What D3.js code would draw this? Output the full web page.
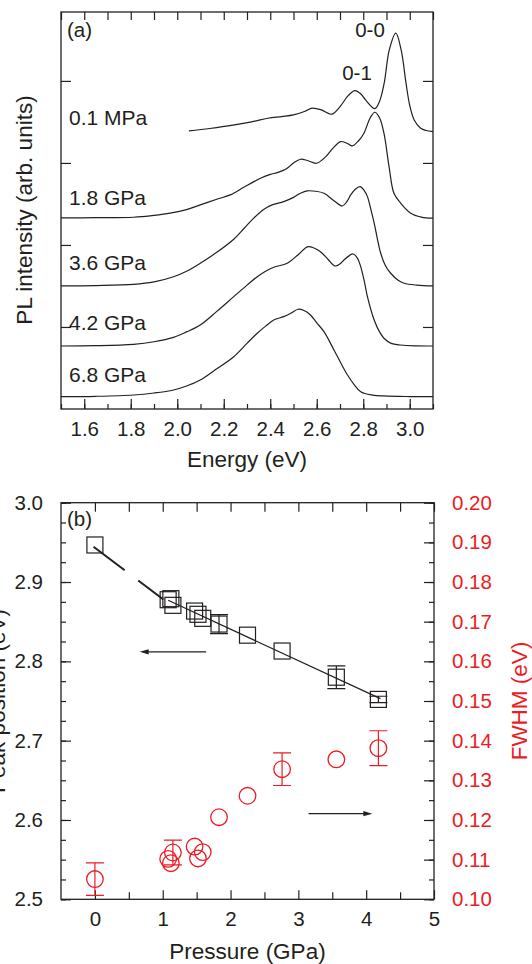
<!DOCTYPE html>
<html>
<head>
<meta charset="utf-8">
<script src="https://cdn.jsdelivr.net/npm/d3@7"></script>
<style>
  body { margin: 0; background: #fff; }
  svg { display: block; }
  text { font-family: "Liberation Sans", Arial, Helvetica, sans-serif; }
</style>
</head>
<body>
<svg id="chart" width="532" height="964"></svg>
<script>
// ---------- panel (a): PL spectra, [energy (eV), intensity (arb. units, offset included)]
const spec01MPa = [[2.05,3.39],[2.14,3.42],[2.24,3.46],[2.32,3.50],[2.39,3.545],[2.45,3.565],[2.50,3.585],
  [2.55,3.63],[2.58,3.667],[2.62,3.646],[2.664,3.594],[2.70,3.687],[2.735,3.82],[2.764,3.882],[2.79,3.84],
  [2.81,3.768],[2.85,3.662],[2.87,3.75],[2.89,3.972],[2.912,4.378],[2.940,4.582],[2.963,4.378],[2.984,3.972],
  [3.00,3.70],[3.019,3.524],[3.047,3.423],[3.07,3.395],[3.10,3.382]];
const spec18GPa = [[1.50,2.33],[1.65,2.332],[1.812,2.338],[1.90,2.36],[1.97,2.387],[2.04,2.43],[2.099,2.488],
  [2.17,2.557],[2.228,2.61],[2.29,2.71],[2.358,2.813],[2.40,2.86],[2.43,2.882],[2.47,2.93],[2.50,3.0],
  [2.53,3.045],[2.56,3.03],[2.599,2.996],[2.64,3.08],[2.67,3.18],[2.703,3.26],[2.73,3.24],[2.753,3.207],
  [2.78,3.27],[2.803,3.362],[2.83,3.55],[2.85,3.618],[2.87,3.55],[2.889,3.362],[2.911,2.955],[2.932,2.63],
  [2.961,2.51],[3.004,2.387],[3.05,2.34],[3.10,2.326]];
const spec36GPa = [[1.50,1.50],[1.65,1.505],[1.812,1.52],[1.90,1.55],[1.984,1.613],[2.04,1.68],[2.099,1.777],
  [2.17,1.91],[2.243,2.07],[2.29,2.21],[2.33,2.33],[2.37,2.43],[2.408,2.488],[2.458,2.528],[2.50,2.58],
  [2.53,2.63],[2.559,2.659],[2.595,2.655],[2.631,2.63],[2.674,2.54],[2.71,2.476],[2.73,2.53],[2.746,2.61],
  [2.766,2.68],[2.786,2.711],[2.805,2.66],[2.818,2.589],[2.833,2.43],[2.847,2.265],[2.875,1.899],[2.895,1.75],
  [2.918,1.655],[2.95,1.57],[2.976,1.533],[3.03,1.51],[3.10,1.50]];
const spec42GPa = [[1.50,0.768],[1.65,0.772],[1.812,0.789],[1.90,0.82],[1.984,0.874],[2.04,0.94],[2.099,1.024],
  [2.17,1.19],[2.243,1.37],[2.30,1.51],[2.344,1.613],[2.38,1.68],[2.415,1.728],[2.473,1.777],[2.52,1.88],
  [2.562,1.979],[2.59,1.96],[2.616,1.918],[2.65,1.82],[2.678,1.744],[2.70,1.77],[2.717,1.817],[2.74,1.87],
  [2.756,1.89],[2.775,1.84],[2.789,1.735],[2.805,1.55],[2.818,1.37],[2.847,1.085],[2.87,0.94],[2.889,0.862],
  [2.92,0.80],[2.961,0.78],[3.03,0.77],[3.10,0.768]];
const spec68GPa = [[1.50,0.15],[1.65,0.155],[1.812,0.171],[1.90,0.195],[1.984,0.232],[2.04,0.28],[2.099,0.354],
  [2.17,0.49],[2.243,0.638],[2.30,0.80],[2.344,0.923],[2.38,1.01],[2.415,1.085],[2.458,1.126],[2.49,1.17],
  [2.52,1.216],[2.545,1.20],[2.573,1.146],[2.60,1.05],[2.631,0.943],[2.674,0.72],[2.70,0.58],[2.731,0.42],
  [2.76,0.30],[2.789,0.211],[2.84,0.17],[2.889,0.159],[3.00,0.152],[3.10,0.15]];
const spectrumLabels = ['0.1 MPa', '1.8 GPa', '3.6 GPa', '4.2 GPa', '6.8 GPa'];
const energyTicks = [1.6, 1.8, 2.0, 2.2, 2.4, 2.6, 2.8, 3.0];
const energyMinor = [1.5, 1.6, 1.7, 1.8, 1.9, 2.0, 2.1, 2.2, 2.3, 2.4, 2.5, 2.6, 2.7, 2.8, 2.9, 3.0, 3.1];
const intensityTicks = [1, 2, 3, 4];

// ---------- panel (b): peak position and FWHM vs pressure
const pressure = [0.00, 1.08, 1.12, 1.15, 1.47, 1.52, 1.59, 1.83, 2.25, 2.76, 3.56, 4.18];
const peakPos  = [2.9467, 2.8777, 2.879, 2.8706, 2.8634, 2.8593, 2.8542, 2.847, 2.833, 2.813, 2.780, 2.752];
const peakErr  = [0, 0, 0, 0, 0, 0, 0, 0.012, 0, 0, 0.0143, 0.004];
const fwhm     = [0.1051, 0.1102, 0.1091, 0.1118, 0.1133, 0.1103, 0.1119, 0.1207, 0.1261, 0.1328, 0.1353, 0.1381];
const fwhmErr  = [0.0041, 0, 0, 0.0031, 0, 0, 0, 0, 0, 0.0041, 0, 0.0044];
const fitSolid  = [[1.08, 2.877], [4.21, 2.753]];
const fitDashed = [[-0.02, 2.9445], [1.01, 2.878]];
const arrowPeak = [[1.64, 2.812], [0.66, 2.812]];
const arrowFwhm = [[3.15, 0.1216], [4.09, 0.1216]];
const pressureTicks = [0, 1, 2, 3, 4, 5];
const pressureMinor = [0.5, 1.5, 2.5, 3.5, 4.5];
const peakTicks = [2.5, 2.6, 2.7, 2.8, 2.9, 3.0];
const fwhmTicks = [0.10, 0.11, 0.12, 0.13, 0.14, 0.15, 0.16, 0.17, 0.18, 0.19, 0.20];

const ink = '#231f20';
const red = '#ec1c24';
const tickFont = '20.5px';
const titleFont = '22.5px';

const svg = d3.select('#chart');

function styleAxis(g, color) {
  g.select('.domain').remove();
  g.selectAll('.tick line').attr('stroke', ink).attr('stroke-width', 1.2);
  g.selectAll('.tick text').style('font-size', tickFont)
    .style('font-family', '"Liberation Sans", Arial, sans-serif')
    .style('fill', color);
}

// ================= panel (a)
const xA = d3.scaleLinear().domain([1.5, 3.1]).range([61, 433]);
const yA = d3.scaleLinear().domain([0, 4.84]).range([409, 12]);
const gA = svg.append('g');

gA.append('g').attr('transform', 'translate(0,409)')
  .call(d3.axisBottom(xA).tickValues(energyMinor).tickSize(-5).tickFormat(''))
  .call(g => styleAxis(g, ink));
gA.append('g').attr('transform', 'translate(0,409)')
  .call(d3.axisBottom(xA).tickValues(energyTicks).tickSize(-10).tickPadding(12).tickFormat(d3.format('.1f')))
  .call(g => styleAxis(g, ink));
gA.append('g').attr('transform', 'translate(0,12)')
  .call(d3.axisTop(xA).tickValues(energyMinor).tickSize(-8).tickFormat(''))
  .call(g => styleAxis(g, ink));
gA.append('g').attr('transform', 'translate(61,0)')
  .call(d3.axisLeft(yA).tickValues(intensityTicks).tickSize(-10).tickFormat(''))
  .call(g => styleAxis(g, ink));
gA.append('g').attr('transform', 'translate(433,0)')
  .call(d3.axisRight(yA).tickValues(intensityTicks).tickSize(-10).tickFormat(''))
  .call(g => styleAxis(g, ink));
gA.append('rect').attr('x', 61).attr('y', 12).attr('width', 372).attr('height', 397)
  .attr('fill', 'none').attr('stroke', ink).attr('stroke-width', 1.3);

const specLine = d3.line().x(d => xA(d[0])).y(d => yA(d[1])).curve(d3.curveCatmullRom.alpha(0.5));
[spec01MPa, spec18GPa, spec36GPa, spec42GPa, spec68GPa].forEach(s => {
  gA.append('path').attr('d', specLine(s)).attr('fill', 'none').attr('stroke', ink).attr('stroke-width', 1.2);
});

const labelLevel = [3.46, 2.49, 1.70, 0.96, 0.335];
spectrumLabels.forEach((t, i) => {
  gA.append('text').attr('x', 69).attr('y', yA(labelLevel[i])).style('font-size', '21px').style('fill', ink).text(t);
});
gA.append('text').attr('x', 67).attr('y', 37).style('font-size', '20.5px').style('fill', ink).text('(a)');
gA.append('text').attr('x', 370).attr('y', 37).attr('text-anchor', 'middle').style('font-size', '20.5px')
  .style('fill', ink).text('0-0');
gA.append('text').attr('x', 357).attr('y', 80).attr('text-anchor', 'middle').style('font-size', '20.5px')
  .style('fill', ink).text('0-1');

gA.append('text').attr('x', 247).attr('y', 467).attr('text-anchor', 'middle').style('font-size', titleFont)
  .style('fill', ink).text('Energy (eV)');
gA.append('text').attr('transform', 'translate(32,210) rotate(-90)').attr('text-anchor', 'middle')
  .style('font-size', titleFont).style('fill', ink).text('PL intensity (arb. units)');

// ================= panel (b)
const xB = d3.scaleLinear().domain([-0.5, 5]).range([61, 434]);
const yB = d3.scaleLinear().domain([2.5, 3.0]).range([899.3, 502.7]);
const yF = d3.scaleLinear().domain([0.10, 0.20]).range([899.3, 502.7]);
const gB = svg.append('g');

gB.append('g').attr('transform', 'translate(0,899.3)')
  .call(d3.axisBottom(xB).tickValues(pressureMinor).tickSize(-7).tickFormat(''))
  .call(g => styleAxis(g, ink));
gB.append('g').attr('transform', 'translate(0,899.3)')
  .call(d3.axisBottom(xB).tickValues(pressureTicks).tickSize(-9).tickPadding(12).tickFormat(d3.format('d')))
  .call(g => styleAxis(g, ink));
gB.append('g').attr('transform', 'translate(0,502.7)')
  .call(d3.axisTop(xB).tickValues(pressureTicks.concat(pressureMinor)).tickSize(-9).tickFormat(''))
  .call(g => styleAxis(g, ink));
gB.append('g').attr('transform', 'translate(61,0)')
  .call(d3.axisLeft(yB).tickValues(d3.range(0, 21).map(i => 2.5 + i * 0.025)).tickSize(-5).tickFormat(''))
  .call(g => styleAxis(g, ink));
gB.append('g').attr('transform', 'translate(61,0)')
  .call(d3.axisLeft(yB).tickValues(peakTicks).tickSize(-10).tickPadding(18).tickFormat(d3.format('.1f')))
  .call(g => styleAxis(g, ink));
gB.append('g').attr('transform', 'translate(434,0)')
  .call(d3.axisRight(yF).tickValues(d3.range(0, 21).map(i => 0.10 + i * 0.005)).tickSize(-5).tickFormat(''))
  .call(g => styleAxis(g, ink));
gB.append('g').attr('transform', 'translate(434,0)')
  .call(d3.axisRight(yF).tickValues(fwhmTicks).tickSize(-10).tickPadding(18).tickFormat(d3.format('.2f')))
  .call(g => styleAxis(g, red));
gB.append('rect').attr('x', 61).attr('y', 502.7).attr('width', 373).attr('height', 396.6)
  .attr('fill', 'none').attr('stroke', ink).attr('stroke-width', 1.3);

// fit lines
const fitLine = d3.line().x(d => xB(d[0])).y(d => yB(d[1]));
gB.append('path').attr('d', fitLine(fitDashed)).attr('fill', 'none').attr('stroke', ink)
  .attr('stroke-width', 2).attr('stroke-dasharray', '39,17');
gB.append('path').attr('d', fitLine(fitSolid)).attr('fill', 'none').attr('stroke', ink).attr('stroke-width', 1.2);

// peak position squares with error bars
const side = 16, cap = 9;
pressure.forEach((p, i) => {
  const cx = xB(p), cy = yB(peakPos[i]);
  if (peakErr[i] > 0) {
    const y0 = yB(peakPos[i] - peakErr[i]), y1 = yB(peakPos[i] + peakErr[i]);
    gB.append('path').attr('d', `M${cx},${y0}V${y1}M${cx - cap},${y0}H${cx + cap}M${cx - cap},${y1}H${cx + cap}`)
      .attr('stroke', ink).attr('stroke-width', 1.2).attr('fill', 'none');
  }
  gB.append('rect').attr('x', cx - side / 2).attr('y', cy - side / 2).attr('width', side).attr('height', side)
    .attr('fill', 'none').attr('stroke', ink).attr('stroke-width', 1.2);
});

// FWHM circles with error bars
pressure.forEach((p, i) => {
  const cx = xB(p), cy = yF(fwhm[i]);
  if (fwhmErr[i] > 0) {
    const y0 = yF(fwhm[i] - fwhmErr[i]), y1 = yF(fwhm[i] + fwhmErr[i]);
    gB.append('path').attr('d', `M${cx},${y0}V${y1}M${cx - cap},${y0}H${cx + cap}M${cx - cap},${y1}H${cx + cap}`)
      .attr('stroke', red).attr('stroke-width', 1.2).attr('fill', 'none');
  }
  gB.append('circle').attr('cx', cx).attr('cy', cy).attr('r', 8.3)
    .attr('fill', 'none').attr('stroke', red).attr('stroke-width', 1.3);
});

// arrows
function arrow(pts, ys) {
  const x0 = xB(pts[0][0]), x1 = xB(pts[1][0]), y = ys(pts[0][1]);
  const dir = Math.sign(x1 - x0);
  gB.append('line').attr('x1', x0).attr('x2', x1 - dir * 6).attr('y1', y).attr('y2', y)
    .attr('stroke', ink).attr('stroke-width', 1.2);
  gB.append('path').attr('d', `M${x1},${y}L${x1 - dir * 9},${y - 2.6}L${x1 - dir * 9},${y + 2.6}Z`).attr('fill', ink);
}
arrow(arrowPeak, yB);
arrow(arrowFwhm, yF);

gB.append('text').attr('x', 67).attr('y', 526).style('font-size', '20.5px').style('fill', ink).text('(b)');
gB.append('text').attr('x', 247.5).attr('y', 959).attr('text-anchor', 'middle').style('font-size', titleFont)
  .style('fill', ink).text('Pressure (GPa)');
gB.append('text').attr('transform', 'translate(5,701) rotate(-90)').attr('text-anchor', 'middle')
  .style('font-size', titleFont).style('fill', ink).text('Peak position (eV)');
gB.append('text').attr('transform', 'translate(527,701) rotate(-90)').attr('text-anchor', 'middle')
  .style('font-size', titleFont).style('fill', red).text('FWHM (eV)');
</script>
</body>
</html>
